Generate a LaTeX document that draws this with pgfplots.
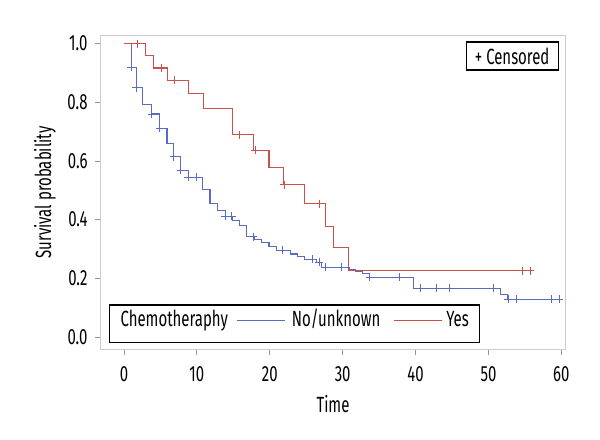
\documentclass[border=0pt]{standalone}
\usepackage{pgfplots}
\pgfplotsset{compat=1.18}
\usepackage{fontspec}
\setmainfont{Fira Sans}[FakeStretch=0.68]
\definecolor{kmblue}{RGB}{88,108,196}
\definecolor{kmred}{RGB}{204,80,74}
\definecolor{framegray}{RGB}{205,205,205}
\definecolor{tickgray}{RGB}{150,150,150}
\begin{document}
\begin{tikzpicture}[font=\fontsize{22bp}{26bp}\selectfont]
\path[use as bounding box] (-101bp,-91bp) rectangle (499bp,349bp);
\begin{axis}[
  at={(0,0)}, anchor=south west,
  width=464bp, height=313bp, scale only axis,
  xmin=-3.15, xmax=60.5, ymin=-0.041, ymax=1.026,
  xtick={0,10,20,30,40,50,60},
  ytick={0,0.2,0.4,0.6,0.8,1.0},
  axis line style={framegray, line width=1bp},
  tick style={tickgray, line width=0.8bp},
  tick align=outside, tick pos=left, major tick length=6bp,
  /pgf/number format/assume math mode=true,
  yticklabel style={/pgf/number format/.cd, fixed, fixed zerofill, precision=1, /tikz/.cd, xshift=-4bp},
  xticklabel style={yshift=-8bp},
  xlabel={Time}, ylabel={Survival probability},
  xlabel style={at={(axis description cs:0.5,-0.175)}, anchor=center},
  ylabel style={at={(axis description cs:-0.1207,0.5)}, anchor=center},
  legend columns=3,
  legend style={at={(axis description cs:0.0172,0.02)}, anchor=south west,
    draw=black, line width=1.2bp, inner xsep=11bp, inner ysep=14bp,
    nodes={inner sep=0pt, text height=0.72em, text depth=0.2em},
    /tikz/column sep=0pt},
  legend cell align=left,
]
\addlegendimage{empty legend}
\addlegendentry{Chemotheraphy}
\addplot[const plot, kmblue, line width=1.1bp,
  legend image code/.code={\path[draw=none] (0bp,0.3em) -- (64bp,0.3em); \draw[kmblue, line width=1.1bp] (9.5bp,0.3em) -- (57.5bp,0.3em);}]
coordinates {
(0,1.0) (1.0,0.920) (1.7,0.849) (2.6,0.792) (3.8,0.760) (4.9,0.712)
(5.9,0.659) (6.8,0.615) (7.8,0.568) (8.8,0.545) (10.8,0.504) (11.8,0.456)
(12.8,0.431) (13.9,0.411) (14.9,0.396) (15.8,0.379) (16.8,0.342) (17.9,0.331)
(18.9,0.322) (19.9,0.308) (20.9,0.295) (22.8,0.283) (23.8,0.274) (24.8,0.265)
(26.4,0.254) (27.1,0.238) (30.9,0.231) (31.8,0.223) (32.7,0.217) (33.7,0.204)
(39.7,0.166) (51.7,0.146) (52.6,0.129) (59.8,0.129)
};
\addlegendentry{No/unknown}
\addplot[const plot, kmred, line width=1.1bp,
  legend image code/.code={\path[draw=none] (0bp,0.3em) -- (66bp,0.3em); \draw[kmred, line width=1.1bp] (14bp,0.3em) -- (62bp,0.3em);}]
coordinates {
(0,1.0) (2.9,0.958) (4.0,0.917) (6.0,0.875) (8.8,0.829) (10.9,0.779)
(14.9,0.689) (17.8,0.636) (19.9,0.578) (21.9,0.519) (24.8,0.454)
(27.7,0.377) (28.7,0.304) (30.8,0.226) (55.7,0.226)
};
\addlegendentry{Yes}
\addplot[forget plot, only marks, mark=+, mark size=4bp, kmblue, mark options={line width=0.9bp}]
coordinates {
(1.0,0.920) (1.7,0.849) (3.8,0.760) (4.9,0.712) (6.8,0.615) (7.8,0.568)
(8.8,0.545) (9.9,0.545) (13.9,0.411) (14.8,0.411) (17.7,0.342) (21.8,0.295)
(25.8,0.265) (26.8,0.254) (27.7,0.238) (29.8,0.238) (33.7,0.204) (37.8,0.204)
(40.7,0.166) (42.8,0.166) (44.7,0.166) (50.7,0.166) (52.7,0.129) (53.8,0.129)
(58.7,0.129) (59.7,0.129)
};
\addplot[forget plot, only marks, mark=+, mark size=4bp, kmred, mark options={line width=0.9bp}]
coordinates {
(1.9,1.0) (5.1,0.917) (6.9,0.875) (15.9,0.689) (18.0,0.636) (22.0,0.519)
(26.8,0.454) (54.7,0.226) (55.7,0.226)
};
\node[draw=black, line width=1.2bp, minimum width=92bp, minimum height=28bp, inner sep=2bp]
  at (axis description cs:0.886,0.936) {+ Censored};
\end{axis}
\end{tikzpicture}
\end{document}
